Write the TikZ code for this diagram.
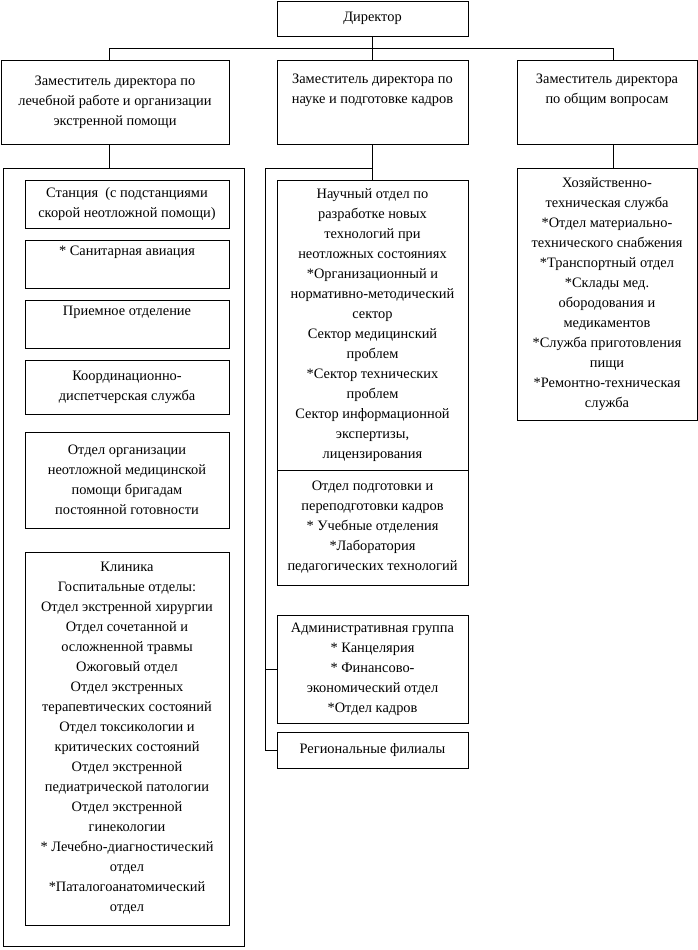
\documentclass[tikz,border=0pt]{standalone}
\usepackage{fontspec}
\setmainfont{Liberation Serif}

\begin{document}
\begin{tikzpicture}[
    x=0.75pt, y=-0.75pt,
    box/.style 2 args={draw, rectangle, align=center, inner sep=0pt,
        minimum width=#1, minimum height=#2},
    line width=0.6pt,
    font=\fontsize{10.8pt}{15pt}\selectfont
]
    \useasboundingbox (0,0) rectangle (698,950);

    % Директор и заместители
    \node[box={143.25pt}{26.25pt}] (dir) at (372.5,18.5) {Директор};
    \node[box={171pt}{63pt}] (depL) at (115,102) {Заместитель директора по\\лечебной работе и организации\\экстренной помощи};
    \node[box={143.25pt}{63pt}] (depM) at (372.5,102) {Заместитель директора по\\науке и подготовке кадров\\\strut};
    \node[box={135pt}{63pt}] (depR) at (607,102) {Заместитель директора\\по общим вопросам\\\strut};

    % шина
    \coordinate (bus) at (372.5,48);
    \coordinate (colL) at (109,0);
    \coordinate (colR) at (613,0);
    \draw (dir.south) -- (dir.south |- bus);
    \draw (colL |- depL.north) -- (colL |- bus) -- (colR |- bus) -- (colR |- depR.north);
    \draw (dir.south |- bus) -- (depM.north);

    % Левая колонка
    \node[draw, rectangle, inner sep=0pt, minimum width=180.75pt, minimum height=583.5pt] (frameL) at (123.5,557) {};
    \draw (colL |- depL.south) -- (colL |- frameL.north);

    \node[box={153pt}{36pt}] (stan) at (127,204) {Станция \ (с подстанциями\\скорой неотложной помощи)};
    \node[box={153pt}{36pt}] (avia) at (127,264) {* Санитарная авиация\\\strut};
    \node[box={153pt}{36pt}] (priem) at (127,324) {Приемное отделение\\\strut};
    \node[box={153pt}{40.5pt}] (disp) at (127,387) {Координационно-\\диспетчерская служба};
    \node[box={153pt}{72pt}] (brig) at (127,480) {Отдел организации\\неотложной медицинской\\помощи бригадам\\постоянной готовности};
    \node[box={153pt}{279.75pt}] (klin) at (127,738.5) {Клиника\\Госпитальные отделы:\\Отдел экстренной хирургии\\Отдел сочетанной и\\осложненной травмы\\Ожоговый отдел\\Отдел экстренных\\терапевтических состояний\\Отдел токсикологии и\\критических состояний\\Отдел экстренной\\педиатрической патологии\\Отдел экстренной\\гинекологии\\* Лечебно-диагностический\\отдел\\*Паталогоанатомический\\отдел};

    % Средняя колонка
    \node[box={143.25pt}{217.5pt}] (sci) at (372.5,325) {Научный отдел по\\разработке новых\\технологий при\\неотложных состояниях\\*Организационный и\\нормативно-методический\\сектор\\Сектор медицинский\\проблем\\*Сектор технических\\проблем\\Сектор информационной\\экспертизы,\\лицензирования};
    \node[box={143.25pt}{86.25pt}] (edu) at (372.5,527.5) {Отдел подготовки и\\переподготовки кадров\\* Учебные отделения\\*Лаборатория\\педагогических технологий};
    \node[box={143.25pt}{81pt}] (adm) at (372.5,669) {Административная группа\\* Канцелярия\\* Финансово-\\экономический отдел\\*Отдел кадров};
    \node[box={143.25pt}{27pt}] (reg) at (372.5,750) {Региональные филиалы};

    \coordinate (mbr) at (265,168);
    \draw (depM.south) -- (sci.north);
    \draw (depM.south |- mbr) -- (mbr) -- (mbr |- reg.west) -- (reg.west);
    \draw (mbr |- adm.west) -- (adm.west);

    % Правая колонка
    \node[box={135pt}{189pt}] (hoz) at (607,294) {Хозяйственно-\\техническая служба\\*Отдел материально-\\технического снабжения\\*Транспортный отдел\\*Склады мед.\\обородования и\\медикаментов\\*Служба приготовления\\пищи\\*Ремонтно-техническая\\служба};
    \draw (colR |- depR.south) -- (colR |- hoz.north);

\end{tikzpicture}
\end{document}
